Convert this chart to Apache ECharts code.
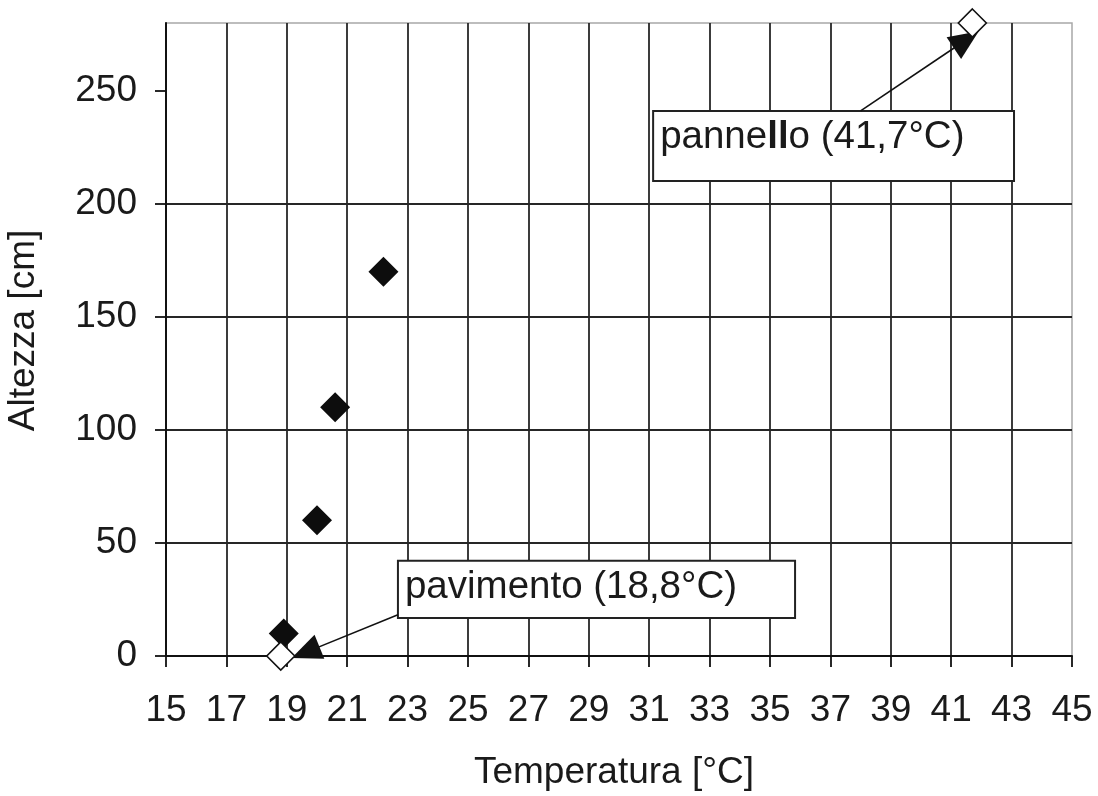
<!DOCTYPE html>
<html>
<head>
<meta charset="utf-8">
<script src="https://cdn.jsdelivr.net/npm/echarts@6/dist/echarts.min.js"></script>
<style>
  html, body { margin: 0; padding: 0; background: #fff; }
  #chart { width: 1098px; height: 796px; }
</style>
</head>
<body>
<div id="chart"></div>
<script>
// Measured points: temperature [°C] against height [cm]
const airTemp = [18.9, 20.0, 20.6, 22.2];
const airHeight = [10, 60, 110, 170];
const surfaceTemp = [18.8, 41.7];
const surfaceHeight = [0, 280];

// Axis ticks
const tempTicks = [15, 17, 19, 21, 23, 25, 27, 29, 31, 33, 35, 37, 39, 41, 43, 45];
const heightTicks = [0, 50, 100, 150, 200, 250];

// Callout texts
const floorLabel = 'pavimento (18,8°C)';
const panelLabel = 'panne{b|ll}o (41,7°C)';

const FONT = "'Liberation Sans', Arial, sans-serif";
const INK = '#1a1a1a';
const GRID_LINE = { color: '#262626', width: 1.8 };

const chart = echarts.init(document.getElementById('chart'), null, { renderer: 'canvas' });

const pairs = (xs, ys) => xs.map((x, i) => [x, ys[i]]);

chart.setOption({
  animation: false,
  backgroundColor: '#fff',
  grid: {
    left: 166, right: 26, top: 23, bottom: 140,
    show: true, borderColor: '#a8a8a8', borderWidth: 1.5,
    backgroundColor: 'transparent',
    outerBoundsMode: 'none'
  },
  xAxis: {
    type: 'value', min: 15, max: 45, interval: 2,
    name: 'Temperatura [°C]', nameLocation: 'middle', nameGap: 98,
    nameTextStyle: { fontFamily: FONT, fontSize: 37, color: INK, padding: [0, 10, 0, 0] },
    axisLine: { show: true, onZero: false, lineStyle: { color: '#111', width: 2 } },
    axisTick: { show: true, inside: false, length: 11, customValues: tempTicks,
      lineStyle: { color: '#111', width: 1.8 } },
    axisLabel: { customValues: tempTicks, margin: 36, fontFamily: FONT, fontSize: 37, color: INK },
    splitLine: { show: true, showMinLine: false, showMaxLine: false, lineStyle: GRID_LINE }
  },
  yAxis: {
    type: 'value', min: 0, max: 280, interval: 50,
    name: 'Altezza [cm]', nameLocation: 'middle', nameGap: 124,
    nameTextStyle: { fontFamily: FONT, fontSize: 37, color: INK, padding: [0, 0, 0, 18] },
    axisLine: { show: true, onZero: false, lineStyle: { color: '#111', width: 2 } },
    axisTick: { show: true, inside: false, length: 11, customValues: heightTicks,
      lineStyle: { color: '#111', width: 1.8 } },
    axisLabel: { customValues: heightTicks, margin: 29, fontFamily: FONT, fontSize: 37, color: INK },
    splitLine: { show: true, showMinLine: false, showMaxLine: false, lineStyle: GRID_LINE }
  },
  series: [
    {
      name: 'aria',
      type: 'scatter',
      data: pairs(airTemp, airHeight),
      symbol: 'diamond',
      symbolSize: 30,
      itemStyle: { color: '#0d0d0d', opacity: 1 },
      clip: false,
      silent: true,
      z: 5
    },
    {
      name: 'superfici',
      type: 'scatter',
      data: pairs(surfaceTemp, surfaceHeight),
      symbol: 'diamond',
      symbolSize: 28,
      itemStyle: { color: '#fff', borderColor: '#111', borderWidth: 1.6, opacity: 1 },
      clip: false,
      silent: true,
      z: 6,
      markArea: {
        silent: true,
        itemStyle: { color: '#fff', borderColor: '#222', borderWidth: 2, opacity: 1 },
        label: {
          show: true, position: 'insideTopLeft', distance: 8,
          fontFamily: FONT, fontSize: 38.5, color: INK,
          rich: { b: { fontFamily: FONT, fontSize: 38.5, fontWeight: 'bold', color: INK } }
        },
        data: [
          [{ coord: [22.68, 42.1], label: { formatter: floorLabel } }, { coord: [35.83, 16.8] }],
          [{ coord: [31.13, 241.1], label: { formatter: panelLabel } }, { coord: [43.08, 210.1] }]
        ]
      },
      markLine: {
        silent: true,
        symbol: ['none', 'triangle'],
        symbolSize: [26, 30],
        label: { show: false },
        lineStyle: { color: '#111', width: 1.6, type: 'solid', opacity: 1 },
        data: [
          [{ coord: [22.68, 18.2] }, { coord: [19.62, 1.6] }],
          [{ coord: [38.0, 241.1] }, { coord: [41.5, 272.6] }]
        ]
      }
    }
  ]
});
</script>
</body>
</html>
